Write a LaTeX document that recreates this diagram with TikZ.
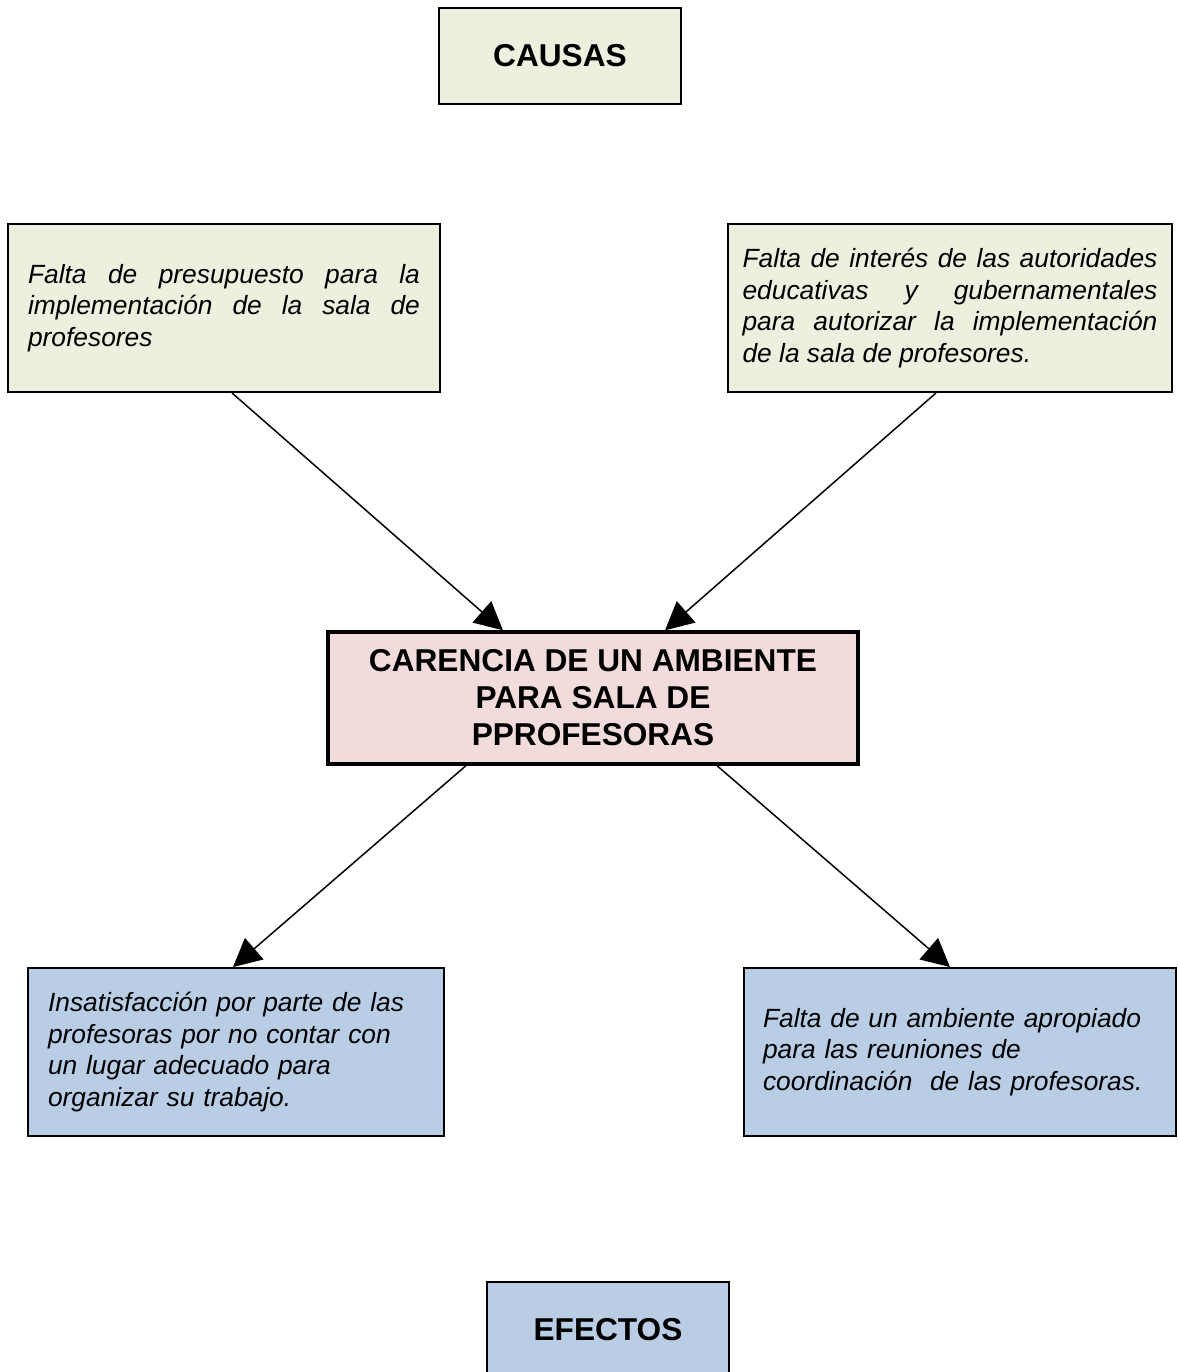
\documentclass[tikz,border=0pt]{standalone}
\usepackage{fontspec}
\setmainfont{Liberation Sans}
\usepackage{tikz}
\usetikzlibrary{calc,arrows.meta}
\usepackage{xcolor}
\definecolor{causafill}{HTML}{EBF1DE}
\definecolor{problemafill}{HTML}{F2DCDB}
\definecolor{efectofill}{HTML}{B9CDE5}

\begin{document}
\begin{tikzpicture}[x=0.02cm,y=-0.02cm,every node/.style={draw=black,line width=1.1pt,inner sep=0pt},
    titulo/.style={font=\fontsize{18}{21}\selectfont\bfseries,minimum width=4.84cm,minimum height=1.92cm},
    causa/.style={fill=causafill,font=\fontsize{15}{18}\selectfont\itshape,align=justify,minimum height=3.36cm},
    efecto/.style={fill=efectofill,font=\fontsize{15}{18}\selectfont\itshape,align=left,minimum height=3.36cm},
    flecha/.style={line width=0.85pt,-{Triangle[length=16pt,width=16pt]}}]
            
            % Define the page as a white rectangle
            \path[use as bounding box,fill=white] (0,0) rectangle (1179,1372);
        
            \node[titulo,fill=causafill] (causas) at (560,56) {CAUSAS};
        
            \node[causa,text width=7.84cm,inner xsep=0.4cm] (causa1) at (224,308)
                {Falta de presupuesto para la\linebreak implementación de la sala de\linebreak profesores};
        
            \node[causa,text width=8.3cm,inner xsep=0.29cm] (causa2) at (950,308)
                {Falta de interés de las autoridades\linebreak educativas y gubernamentales\linebreak para autorizar la implementación\linebreak de la sala de profesores.};
        
            \node[fill=problemafill,line width=1.9pt,font=\fontsize{18}{21}\selectfont\bfseries,align=center,minimum width=10.6cm,minimum height=2.64cm] (problema) at (593,698)
                {CARENCIA DE UN AMBIENTE\\PARA SALA DE\\PPROFESORAS};
        
            \node[efecto,text width=7.52cm,inner xsep=0.4cm] (efecto1) at (236,1052)
                {Insatisfacción por parte de las\\profesoras por no contar con\\un lugar adecuado para\\organizar su trabajo.};
        
            \node[efecto,text width=7.88cm,inner xsep=0.38cm] (efecto2) at (960,1052)
                {Falta de un ambiente apropiado\\para las reuniones de\\coordinación~ de las profesoras.};
        
            \node[titulo,fill=efectofill] (efectos) at (608,1330) {EFECTOS};
            
            \draw[flecha] ($(causa1.south)+(8,0)$) -- ($(problema.north)+(-90,0)$);
            \draw[flecha] ($(causa2.south)+(-14,0)$) -- ($(problema.north)+(72,0)$);
            \draw[flecha] ($(problema.south)+(-127,0)$) -- ($(efecto1.north)+(-3,0)$);
            \draw[flecha] ($(problema.south)+(124,0)$) -- ($(efecto2.north)+(-10,0)$);
            
            \end{tikzpicture}
\end{document}
